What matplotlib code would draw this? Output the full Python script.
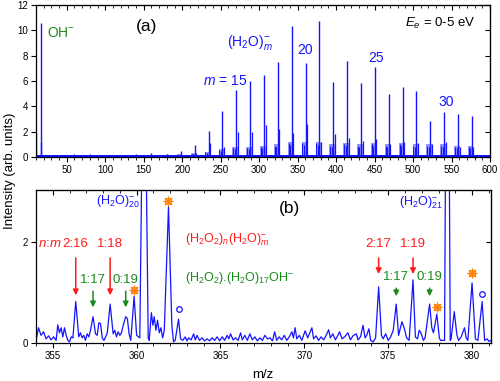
import numpy as np
import matplotlib.pyplot as plt

plt.rcParams['font.family'] = ['Liberation Sans', 'DejaVu Sans']
plt.rcParams['mathtext.fontset'] = 'custom'
plt.rcParams['mathtext.rm'] = 'Liberation Sans'
plt.rcParams['mathtext.it'] = 'Liberation Sans:italic'

BLUE = '#1414ff'
RED = '#ff1a1a'
GREEN = '#1a8a1a'
ORANGE = '#ff7f00'

# panel (a): (H2O)m- cluster series
cluster_m = list(range(10, 33))
main_h = [0.25, 0.45, 0.95, 2.05, 3.65, 5.3, 6.0, 6.5, 7.5, 10.3, 7.4, 10.7,
          5.95, 7.6, 5.85, 7.1, 5.0, 5.5, 5.2, 2.85, 3.55, 3.4, 3.2]
sat_h = [0.1, 0.15, 0.3, 1.1, 0.8, 2.0, 2.0, 2.5, 2.2, 1.9, 2.6, 1.2,
         1.8, 1.5, 1.3, 1.4, 1.0, 1.2, 1.1, 1.0, 1.2, 0.8, 0.8]
shoulder_h = [0.1, 0.2, 0.3, 0.4, 0.6, 0.8, 0.8, 0.9, 1.0, 1.2, 1.2, 1.2,
              1.0, 1.1, 1.0, 1.1, 1.0, 1.1, 1.0, 1.0, 1.0, 0.9, 0.9]
low_mz = [10.5, 16, 17, 60, 80, 140, 160, 180]
low_h = [2.0, 1.2, 10.6, 0.2, 0.25, 0.2, 0.3, 0.25]

# panel (b): zoom 354-381
spec_x = [354.0, 354.15, 354.3, 354.45, 354.6, 354.75, 354.9, 355.05, 355.2, 355.3,
          355.4, 355.5, 355.6, 355.7, 355.8, 355.9, 356.0, 356.1, 356.2, 356.37,
          356.55, 356.65, 356.75, 356.85, 356.95, 357.05, 357.15, 357.25, 357.4, 357.55,
          357.65, 357.75, 357.85, 357.95, 358.05, 358.15, 358.25, 358.42, 358.6, 358.7,
          358.8, 358.9, 359.0, 359.1, 359.2, 359.35, 359.45, 359.55, 359.65, 359.85,
          360.0, 360.19, 360.44, 360.69, 360.75, 360.88, 360.97, 361.05, 361.15, 361.25,
          361.35, 361.45, 361.55, 361.65, 361.9, 362.1, 362.2, 362.3, 362.5, 362.62,
          362.75, 362.9, 363.0, 363.1, 363.25, 363.4, 363.5, 363.6, 363.75, 363.9,
          364.05, 364.2, 364.35, 364.5, 364.65, 364.8, 364.95, 365.1, 365.25, 365.4,
          365.5, 365.6, 365.75, 365.9, 366.05, 366.2, 366.3, 366.45, 366.6, 366.75,
          366.9, 367.05, 367.2, 367.35, 367.5, 367.65, 367.8, 367.95, 368.1, 368.23,
          368.35, 368.5, 368.65, 368.8, 368.95, 369.1, 369.26, 369.35, 369.45, 369.55,
          369.7, 369.85, 370.05, 370.2, 370.3, 370.45, 370.55, 370.7, 370.85, 371.0,
          371.15, 371.3, 371.45, 371.55, 371.7, 371.85, 372.0, 372.1, 372.25, 372.4,
          372.6, 372.75, 372.9, 373.1, 373.2, 373.35, 373.5, 373.62, 373.72, 373.85,
          373.95, 374.1, 374.25, 374.43, 374.6, 374.7, 374.85, 375.0, 375.15, 375.3,
          375.48, 375.62, 375.82, 375.95, 376.1, 376.25, 376.48, 376.62, 376.75, 376.85,
          376.95, 377.1, 377.2, 377.47, 377.6, 377.7, 377.9, 378.05, 378.12, 378.36,
          378.53, 378.7, 378.75, 378.94, 379.1, 379.2, 379.35, 379.55, 379.65, 379.75,
          380.0, 380.2, 380.35, 380.6, 380.75, 380.9, 381.0, 381.13]
spec_y = [0.05, 0.30, 0.15, 0.22, 0.08, 0.14, 0.06, 0.12, 0.05, 0.36,
          0.20, 0.30, 0.12, 0.30, 0.15, 0.05, 0.02, 0.12, 0.10, 0.82,
          0.12, 0.20, 0.10, 0.15, 0.05, 0.18, 0.12, 0.25, 0.52, 0.18,
          0.15, 0.40, 0.38, 0.10, 0.05, 0.12, 0.20, 0.77, 0.18, 0.25,
          0.12, 0.22, 0.15, 0.20, 0.35, 0.52, 0.48, 0.18, 0.05, 0.92,
          0.15, 0.10, 7.40, 0.10, 0.05, 0.60, 0.35, 0.52, 0.25, 0.45,
          0.20, 0.30, 0.10, 0.25, 2.70, 0.35, 0.02, 0.05, 0.47, 0.08,
          0.05, 0.12, 0.04, 0.10, 0.06, 0.18, 0.06, 0.15, 0.05, 0.10,
          0.04, 0.08, 0.04, 0.10, 0.05, 0.12, 0.04, 0.12, 0.05, 0.15,
          0.08, 0.18, 0.06, 0.10, 0.05, 0.20, 0.06, 0.15, 0.05, 0.18,
          0.06, 0.12, 0.04, 0.10, 0.05, 0.15, 0.08, 0.10, 0.04, 0.22,
          0.05, 0.12, 0.06, 0.15, 0.05, 0.12, 0.22, 0.10, 0.30, 0.08,
          0.15, 0.05, 0.24, 0.10, 0.18, 0.30, 0.08, 0.14, 0.05, 0.12,
          0.06, 0.15, 0.26, 0.10, 0.18, 0.06, 0.15, 0.22, 0.08, 0.12,
          0.20, 0.06, 0.14, 0.18, 0.06, 0.12, 0.35, 0.10, 0.15, 0.28,
          0.05, 0.02, 0.10, 1.11, 0.15, 0.08, 0.18, 0.05, 0.12, 0.25,
          0.77, 0.15, 0.42, 0.30, 0.10, 0.05, 1.25, 0.12, 0.08, 0.25,
          0.20, 0.05, 0.10, 0.77, 0.30, 0.20, 0.57, 0.10, 0.05, 0.05,
          10.7, 0.05, 0.08, 0.62, 0.15, 0.05, 0.12, 0.30, 0.10, 0.05,
          1.19, 0.08, 0.05, 0.82, 0.05, 0.08, 0.03, 0.05]

star_x = [359.85, 361.9, 377.9, 380.0]
star_y = [1.05, 2.82, 0.72, 1.38]
circ_x = [362.5, 380.6]
circ_y = [0.67, 0.97]

red_lab = ['2:16', '1:18', '2:17', '1:19']
red_x = [356.37, 358.42, 374.43, 376.48]
green_lab = ['1:17', '0:19', '1:17', '0:19']
green_x = [357.4, 359.35, 375.48, 377.47]

fig = plt.figure(figsize=(5, 3.81), dpi=100)
ax1 = fig.add_axes([0.072, 0.588, 0.908, 0.399])
ax2 = fig.add_axes([0.072, 0.100, 0.910, 0.401])

# ---- panel (a)
cm = np.array(cluster_m)
pos = cm * 18.015
ax1.fill_between([10, 600], 0, 0.15, color=BLUE, lw=0)
ax1.bar(pos - 1.5, shoulder_h, width=7, color=BLUE, alpha=0.45, lw=0)
ax1.vlines(pos - 4, 0, np.array(shoulder_h) * 0.9, color=BLUE, lw=0.8)
ax1.vlines(pos - 2, 0, np.array(shoulder_h) * 0.8, color=BLUE, lw=0.8)
ax1.vlines(pos + 2, 0, sat_h, color=BLUE, lw=0.9)
ax1.vlines(pos, 0, main_h, color=BLUE, lw=1.0)
ax1.vlines(low_mz, 0, low_h, color=BLUE, lw=1.0)
ax1.set_xlim(10, 600)
ax1.set_ylim(0, 12)
ax1.set_xticks(np.arange(50, 601, 50))
ax1.set_xticks(np.arange(10, 601, 10), minor=True)
ax1.set_yticks(np.arange(0, 13, 2))

ax1.text(154, 10.3, '(a)', fontsize=12.5, ha='center', va='center')
ax1.text(24, 9.8, 'OH$^{-}$', fontsize=10, color=GREEN, va='center')
ax1.text(318, 9.0, '(H$_2$O)$_{m}^{-}$', fontsize=10, color=BLUE, ha='right', va='center')
ax1.text(227, 6.0, '$m$ = 15', fontsize=10, color=BLUE, va='center')
ax1.text(360, 8.45, '20', fontsize=10, color=BLUE, ha='center', va='center')
ax1.text(452, 7.8, '25', fontsize=10, color=BLUE, ha='center', va='center')
ax1.text(543, 4.3, '30', fontsize=10, color=BLUE, ha='center', va='center')
ax1.text(489, 10.55, '$E_e$ = 0-5 eV', fontsize=9.5, va='center')

# ---- panel (b)
ax2.plot(spec_x, spec_y, color=BLUE, lw=0.9)
ax2.plot(star_x, star_y, ls='none', marker=(8, 2, 0), ms=7, mec=ORANGE, mew=0.8)
ax2.plot(star_x, star_y, ls='none', marker='s', ms=4, mfc='none', mec=ORANGE, mew=0.6)
ax2.plot(circ_x, circ_y, ls='none', marker='o', ms=4, mfc='none', mec=BLUE, mew=0.9)
ax2.set_xlim(354.0, 381.13)
ax2.set_ylim(0, 3.03)
ax2.set_xticks(np.arange(355, 381, 5))
ax2.set_xticks(np.arange(354, 382, 1), minor=True)
ax2.set_yticks([0, 2])

ax2.text(360.2, 2.79, '(H$_2$O)$_{20}^{-}$', fontsize=9, color=BLUE, ha='right', va='center')
ax2.text(378.27, 2.77, '(H$_2$O)$_{21}^{-}$', fontsize=9, color=BLUE, ha='right', va='center')
ax2.text(369.1, 2.67, '(b)', fontsize=12.5, ha='center', va='center')
ax2.text(362.9, 2.04, '(H$_2$O$_2$)$_n$(H$_2$O)$_{m}^{-}$', fontsize=9, color=RED, va='center')
ax2.text(362.9, 1.29, '(H$_2$O$_2$).(H$_2$O)$_{17}$OH$^{-}$', fontsize=9, color=GREEN, va='center')
ax2.text(354.1, 1.97, '$n$:$m$', fontsize=9.5, color=RED, va='center')

arrow_red = dict(arrowstyle='-|>', color=RED, lw=1.1, mutation_scale=8)
arrow_green = dict(arrowstyle='-|>', color=GREEN, lw=1.1, mutation_scale=8)
for i in range(4):
    tip = 0.89 if i < 2 else 1.31
    ax2.text(red_x[i], 1.96, red_lab[i], fontsize=9.5, color=RED, ha='center', va='center')
    ax2.annotate('', xy=(red_x[i], tip), xytext=(red_x[i], 1.74), arrowprops=arrow_red)
    gy = 1.25 if i < 2 else 1.31
    gtip = 0.65 if i < 2 else 0.87
    ax2.text(green_x[i], gy, green_lab[i], fontsize=9.5, color=GREEN, ha='center', va='center')
    ax2.annotate('', xy=(green_x[i], gtip), xytext=(green_x[i], gy - 0.17), arrowprops=arrow_green)

for ax in (ax1, ax2):
    ax.tick_params(which='both', direction='out', labelsize=7, pad=2)
    ax.tick_params(which='major', length=3.5, width=0.8)
    ax.tick_params(which='minor', length=2, width=0.6)
    for s in ax.spines.values():
        s.set_linewidth(0.9)
    top = ax.secondary_xaxis('top')
    top.set_xticks(ax.get_xticks())
    top.set_xticks(ax.get_xticks(minor=True), minor=True)
    top.tick_params(which='both', direction='in', labeltop=False)
    top.tick_params(which='major', length=3.5, width=0.8)
    top.tick_params(which='minor', length=2, width=0.6)
    right = ax.secondary_yaxis('right')
    right.set_yticks(ax.get_yticks())
    right.tick_params(direction='in', labelright=False, length=3.5, width=0.8)

fig.text(0.02, 0.551, 'Intensity (arb. units)', rotation=90, fontsize=9.5, ha='center', va='center')
fig.text(0.526, 0.016, 'm/z', fontsize=9.5, ha='center', va='center')

fig.savefig('out.png', dpi=100)
